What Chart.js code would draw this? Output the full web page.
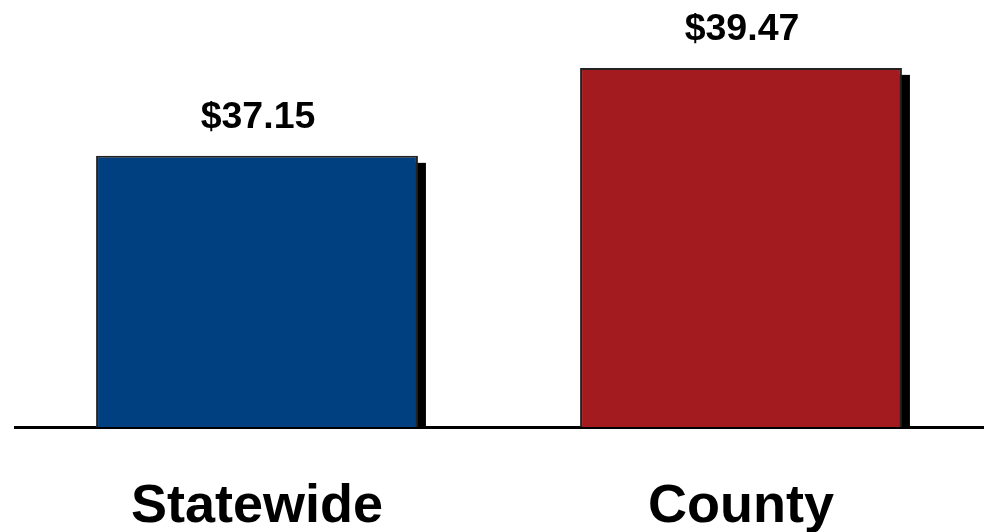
<!DOCTYPE html>
<html>
<head>
<meta charset="utf-8">
<script src="https://cdn.jsdelivr.net/npm/chart.js@4.4.1/dist/chart.umd.min.js"></script>
<style>
  html, body { margin: 0; padding: 0; background: #fff; }
  #wrap { width: 984px; height: 532px; }
</style>
</head>
<body>
<div id="wrap"><canvas id="chart"></canvas></div>
<script>
"use strict";

const categories = ["Statewide", "County"];
const costValues = [37.15, 39.47];
const barColors = ["#004080", "#A31B1F"];

(function () {
  // black drop shadow behind each bar, offset down/right
  const barShadow = {
    id: "barShadow",
    beforeDatasetsDraw(chart) {
      const ctx = chart.ctx;
      const meta = chart.getDatasetMeta(0);
      const bottom = chart.chartArea.bottom;
      ctx.save();
      ctx.fillStyle = "#000";
      meta.data.forEach((bar) => {
        const p = bar.getProps(["x", "y", "width"], true);
        ctx.fillRect(p.x - p.width / 2 + 8, p.y + 7, p.width, bottom - p.y - 7);
      });
      ctx.restore();
    },
  };

  // "$xx.xx" above each bar
  const valueLabels = {
    id: "valueLabels",
    afterDatasetsDraw(chart) {
      const ctx = chart.ctx;
      const meta = chart.getDatasetMeta(0);
      ctx.save();
      ctx.fillStyle = "#000";
      ctx.font = "bold 37.5px 'Liberation Sans', Arial, sans-serif";
      ctx.textAlign = "center";
      ctx.textBaseline = "alphabetic";
      meta.data.forEach((bar, i) => {
        ctx.fillText("$" + costValues[i].toFixed(2), bar.x + 1, bar.y - 28);
      });
      ctx.restore();
    },
  };

  const ctx = document.getElementById("chart").getContext("2d");

  new Chart(ctx, {
    type: "bar",
    data: {
      labels: categories,
      datasets: [
        {
          data: costValues,
          backgroundColor: barColors,
          borderColor: "#222",
          borderWidth: 2,
          borderSkipped: "bottom",
          barPercentage: 0.665,
          categoryPercentage: 1,
        },
      ],
    },
    options: {
      responsive: true,
      maintainAspectRatio: false,
      animation: false,
      layout: {
        padding: { left: 15, right: 1, top: 0, bottom: 0 },
      },
      plugins: {
        legend: { display: false },
        tooltip: { enabled: false },
      },
      scales: {
        x: {
          z: 1,
          grid: { display: false },
          border: { display: true, color: "#000", width: 3 },
          afterFit(scale) {
            scale.height = 105;
          },
          ticks: {
            color: "#000",
            padding: 45,
            font: {
              family: "'Liberation Sans', Arial, sans-serif",
              size: 54,
              weight: "bold",
              lineHeight: 1,
            },
          },
        },
        y: {
          display: false,
          min: 30,
          max: 41.26,
        },
      },
    },
    plugins: [barShadow, valueLabels],
  });
})();
</script>
</body>
</html>
